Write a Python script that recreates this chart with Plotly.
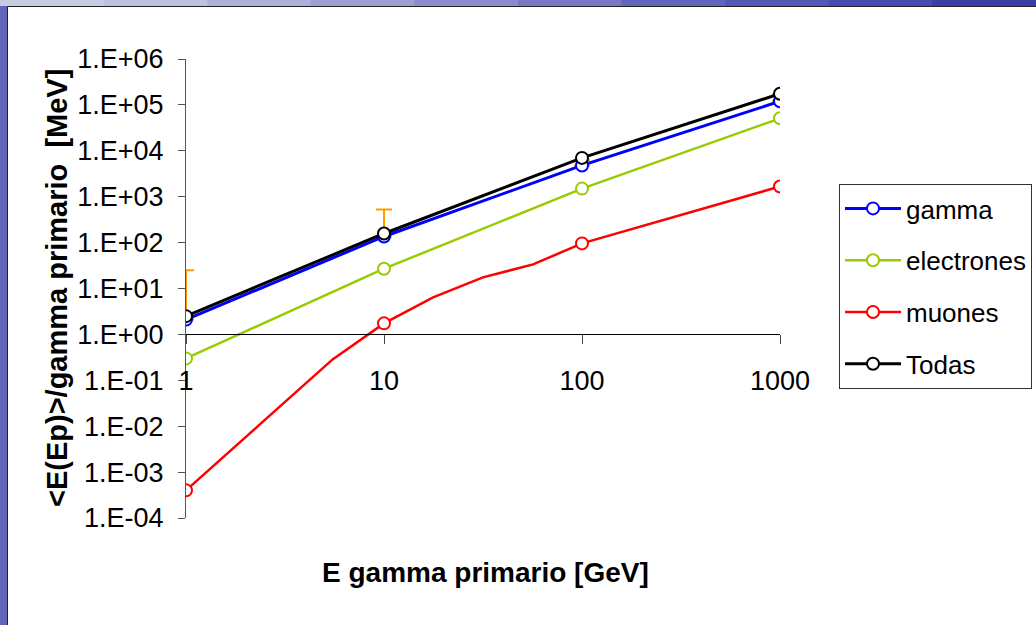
import plotly.graph_objects as go

# ---------------- data ----------------
energy_gev = [1, 10, 100, 1000]
gamma_vals = [2.1, 136, 4800, 120000]
electrones_vals = [0.3, 27, 1500, 51000]
todas_vals = [2.5, 158, 7000, 175000]
# muon curve (line passes through extra points; markers only at decades)
muones_x = [1, 5.5, 10, 17.7, 31.6, 56.6, 100, 1000]
muones_y = [0.0004, 0.285, 1.74, 6.4, 17.5, 33.5, 96, 1670]
muones_marker_vals = [0.0004, 1.74, 96, 1670]
# upper error on gamma
gamma_err_plus = [23, 390, 1400, 50000]
gamma_err_minus = [0, 0, 0, 0]

y_tickvals = [1e-4, 1e-3, 1e-2, 1e-1, 1, 1e1, 1e2, 1e3, 1e4, 1e5, 1e6]
y_ticktext = ["1.E-04", "1.E-03", "1.E-02", "1.E-01", "1.E+00", "1.E+01",
              "1.E+02", "1.E+03", "1.E+04", "1.E+05", "1.E+06"]
x_tickvals = [1, 10, 100, 1000]
x_ticktext = ["1", "10", "100", "1000"]

BLUE = "#0000FF"
GREEN = "#99CC00"
RED = "#FF0000"
BLACK = "#000000"
ORANGE = "#FF9900"
FONT = "Liberation Sans, Arial, sans-serif"

def mk(c):
    return dict(symbol="circle", size=12, color="white", line=dict(color=c, width=2))

fig = go.Figure()

# error bars (drawn first, underneath)
fig.add_trace(go.Scatter(
    x=energy_gev, y=gamma_vals, mode="markers",
    marker=dict(size=1, opacity=0), showlegend=False, hoverinfo="skip",
    error_y=dict(type="data", symmetric=False, array=gamma_err_plus,
                 arrayminus=gamma_err_minus, color=ORANGE, thickness=2, width=8),
))

fig.add_trace(go.Scatter(x=energy_gev, y=gamma_vals, name="gamma", mode="lines+markers",
                         line=dict(color=BLUE, width=3), marker=mk(BLUE),
                         legendgroup="g", legendrank=1))
fig.add_trace(go.Scatter(x=energy_gev, y=electrones_vals, name="electrones", mode="lines+markers",
                         line=dict(color=GREEN, width=2.5), marker=mk(GREEN),
                         legendgroup="e", legendrank=2))
fig.add_trace(go.Scatter(x=muones_x, y=muones_y, name="muones", mode="lines",
                         line=dict(color=RED, width=2.5), showlegend=False,
                         legendgroup="m"))
fig.add_trace(go.Scatter(x=energy_gev, y=muones_marker_vals, name="muones", mode="markers",
                         marker=mk(RED), showlegend=False, legendgroup="m"))
fig.add_trace(go.Scatter(x=[None], y=[None], name="muones", mode="lines+markers",
                         line=dict(color=RED, width=2.5), marker=mk(RED),
                         legendgroup="m", legendrank=3))
fig.add_trace(go.Scatter(x=energy_gev, y=todas_vals, name="Todas", mode="lines+markers",
                         line=dict(color=BLACK, width=3), marker=mk(BLACK),
                         legendgroup="t", legendrank=4))

# plot-area pixel geometry: left 186, right 780, top 59, bottom 518
L, R, T, B = 186, 780, 59, 518
W, H = R - L, B - T
def px_x(p):
    return (p - L) / W
def px_y(p):
    return (B - p) / H

shapes = [
    # white slide panel with thin dark border
    dict(type="rect", xref="paper", yref="paper", x0=px_x(7.5), x1=px_x(1045),
         y0=px_y(640), y1=px_y(6.5), fillcolor="white", line=dict(color="#222", width=1),
         layer="below"),
]
top_colors = ["#c9cbe2", "#bfc1e0", "#aeb0da", "#9c9ed4", "#8a8cce", "#7779c6",
              "#6466be", "#5557b6", "#4749ae", "#3c3ea8"]
n = len(top_colors)
for i, c in enumerate(top_colors):
    shapes.append(dict(type="rect", xref="paper", yref="paper",
                       x0=px_x(i * 1036 / n), x1=px_x((i + 1) * 1036 / n + 1),
                       y0=px_y(6), y1=px_y(-2), fillcolor=c, line=dict(width=0),
                       layer="below"))

fig.update_layout(
    width=1036, height=625,
    margin=dict(l=L, r=1036 - R, t=T, b=625 - B, autoexpand=False),
    paper_bgcolor="#6266b8",
    plot_bgcolor="rgba(0,0,0,0)",
    font=dict(family=FONT, color="black", size=25),
    shapes=shapes,
    showlegend=True,
    legend=dict(
        x=px_x(839), y=px_y(184), xanchor="left", yanchor="top",
        bgcolor="white", bordercolor="#333", borderwidth=1,
        font=dict(family=FONT, size=26, color="black"),
        itemwidth=56, tracegroupgap=15, traceorder="grouped",
    ),
    annotations=[
        dict(text="<b>E gamma primario [GeV]</b>", xref="paper", yref="paper",
             x=px_x(485), y=px_y(572), xanchor="center", yanchor="middle",
             showarrow=False, font=dict(family=FONT, size=28, color="black")),
        dict(text="<b>&lt;E(Ep)&gt;/gamma primario  [MeV]</b>", xref="paper", yref="paper",
             x=px_x(57), y=px_y(288), xanchor="center", yanchor="middle", textangle=-90,
             showarrow=False, font=dict(family=FONT, size=29, color="black")),
    ],
)

fig.update_xaxes(
    type="log", range=[0, 3], anchor="free", position=0.4,
    showline=True, linecolor="black", linewidth=1,
    ticks="outside", ticklen=9, tickcolor="#444", tickwidth=1,
    tickvals=x_tickvals, ticktext=x_ticktext, showgrid=False, zeroline=False,
    tickfont=dict(family=FONT, size=27, color="black"), ticklabelstandoff=13,
)
fig.update_yaxes(
    type="log", range=[-4, 6],
    showline=True, linecolor="#555", linewidth=1,
    ticks="outside", ticklen=7, tickcolor="#555", tickwidth=1,
    tickvals=y_tickvals, ticktext=y_ticktext, showgrid=False, zeroline=False,
    tickfont=dict(family=FONT, size=27, color="black"), ticklabelstandoff=9,
)

fig.write_html("out.html", config={"displayModeBar": False},
               post_script="document.body.style.margin='0';")
